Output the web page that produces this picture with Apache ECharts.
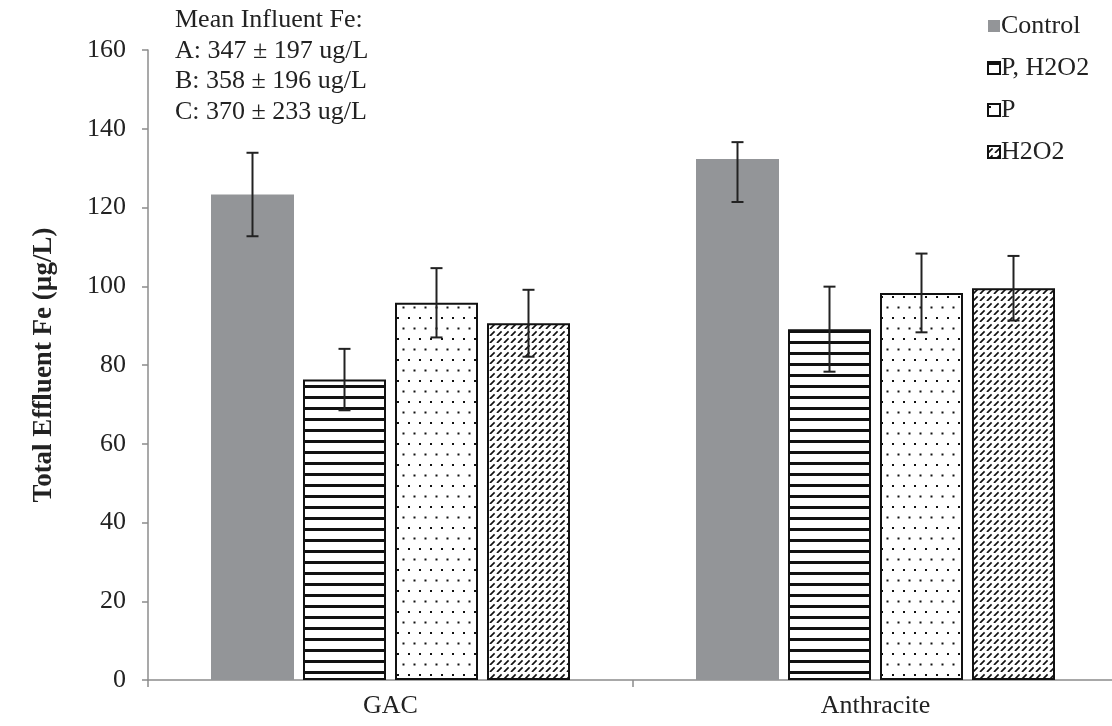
<!DOCTYPE html>
<html>
<head>
<meta charset="utf-8">
<script src="https://cdn.jsdelivr.net/npm/echarts@6/dist/echarts.min.js"></script>
<style>
html,body{margin:0;padding:0;background:#fff;overflow:hidden;}
#chart{width:1124px;height:726px;}
</style>
</head>
<body>
<div id="chart"></div>
<script>
// ---- data ----
var categories = ['GAC', 'Anthracite'];
var seriesNames = ['Control', 'P, H2O2', 'P', 'H2O2'];
var controlVals = [123.3, 132.3];
var controlErrPlus = [10.6, 4.3];
var controlErrMinus = [10.6, 10.9];
var pH2O2Vals = [76.3, 89.1];
var pH2O2ErrPlus = [7.8, 10.8];
var pH2O2ErrMinus = [7.8, 10.8];
var pVals = [95.8, 98.3];
var pErrPlus = [8.8, 10.0];
var pErrMinus = [8.8, 10.0];
var h2o2Vals = [90.6, 99.5];
var h2o2ErrPlus = [8.5, 8.2];
var h2o2ErrMinus = [8.5, 8.2];
var yTicks = [0, 20, 40, 60, 80, 100, 120, 140, 160];
var noteLines = ['Mean Influent Fe:', 'A: 347 \u00b1 197 ug/L', 'B: 358 \u00b1 196 ug/L', 'C: 370 \u00b1 233 ug/L'];

// ---- patterns ----
function makeCanvas(w, h) {
  var c = document.createElement('canvas');
  c.width = w; c.height = h;
  var ctx = c.getContext('2d');
  ctx.fillStyle = '#fff';
  ctx.fillRect(0, 0, w, h);
  return {c: c, ctx: ctx};
}
function hStripes() {
  var o = makeCanvas(4, 11);
  o.ctx.fillStyle = '#111';
  o.ctx.fillRect(0, 0, 4, 3);
  return o.c;
}
function dots() {
  var o = makeCanvas(11, 21);
  o.ctx.fillStyle = '#111';
  o.ctx.fillRect(1, 2, 2, 2);
  o.ctx.fillRect(6.5, 12.5, 2, 2);
  return o.c;
}
function diag() {
  var s = 7;
  var o = makeCanvas(s, s);
  var ctx = o.ctx;
  ctx.strokeStyle = '#111';
  ctx.lineWidth = 1.7;
  ctx.setLineDash([6.5, 3.4]);
  [-s, 0, s].forEach(function (k) {
    ctx.beginPath();
    ctx.moveTo(k, s);
    ctx.lineTo(k + s, 0);
    ctx.stroke();
  });
  return o.c;
}

var FONT = '"Liberation Serif", "DejaVu Serif", serif';
var FS = 26;
var BAR_W = 83, BAR_GAP = 9;

var values = [controlVals, pH2O2Vals, pVals, h2o2Vals];
var errPlus = [controlErrPlus, pH2O2ErrPlus, pErrPlus, h2o2ErrPlus];
var errMinus = [controlErrMinus, pH2O2ErrMinus, pErrMinus, h2o2ErrMinus];
var fills = ['#939598', {image: hStripes(), repeat: 'repeat'}, {image: dots(), repeat: 'repeat'}, {image: diag(), repeat: 'repeat'}];

var series = [];
seriesNames.forEach(function (name, i) {
  series.push({
    name: name,
    type: 'bar',
    barWidth: BAR_W,
    barGap: (BAR_GAP / BAR_W * 100) + '%',
    data: values[i],
    itemStyle: i === 0 ? {color: fills[i]} : {color: fills[i], borderColor: '#111', borderWidth: 2},
    emphasis: {disabled: true},
    z: 2
  });
});

// error bars
var errData = [];
values.forEach(function (vals, si) {
  vals.forEach(function (v, ci) {
    errData.push([ci, v, errPlus[si][ci], errMinus[si][ci], si]);
  });
});
series.push({
  type: 'custom',
  name: 'err',
  data: errData,
  z: 5,
  silent: true,
  renderItem: function (params, api) {
    var ci = api.value(0), v = api.value(1), ep = api.value(2), em = api.value(3), si = api.value(4);
    var center = api.coord([ci, v]);
    var x = center[0] + (si - 1.5) * (BAR_W + BAR_GAP);
    var top = api.coord([ci, v + ep])[1];
    var bot = api.coord([ci, v - em])[1];
    var cap = 6;
    var st = {stroke: '#222', lineWidth: 2};
    return {
      type: 'group',
      children: [
        {type: 'line', shape: {x1: x, y1: top, x2: x, y2: bot}, style: st},
        {type: 'line', shape: {x1: x - cap, y1: top, x2: x + cap, y2: top}, style: st},
        {type: 'line', shape: {x1: x - cap, y1: bot, x2: x + cap, y2: bot}, style: st}
      ]
    };
  }
});

var chart = echarts.init(document.getElementById('chart'), null, {renderer: 'canvas'});
chart.setOption({
  animation: false,
  backgroundColor: '#fff',
  textStyle: {fontFamily: FONT},
  grid: {left: 148, top: 50, right: 6, bottom: 46, containLabel: false},
  legend: {
    data: seriesNames,
    orient: 'vertical',
    left: 982,
    top: 8,
    itemWidth: 12,
    itemHeight: 12,
    itemGap: 16,
    icon: 'rect',
    textStyle: {fontFamily: FONT, fontSize: FS, color: '#222', padding: [0, 0, 0, -4]},
    selectedMode: false
  },
  graphic: [{
    type: 'text',
    left: 175,
    top: 5,
    style: {
      text: noteLines.join('\n'),
      font: FS + 'px ' + FONT,
      fill: '#222',
      lineHeight: 30.5
    }
  }],
  xAxis: {
    type: 'category',
    data: categories,
    axisLine: {lineStyle: {color: '#8c8c8c', width: 1.5}},
    axisTick: {show: true, length: 7, lineStyle: {color: '#8c8c8c', width: 1.5}},
    axisLabel: {fontFamily: FONT, fontSize: FS, color: '#222', margin: 13}
  },
  yAxis: {
    type: 'value',
    min: 0,
    max: 160,
    interval: 20,
    name: 'Total Effluent Fe (\u00b5g/L)',
    nameLocation: 'middle',
    nameGap: 90,
    nameTextStyle: {fontFamily: FONT, fontSize: 27, fontWeight: 'bold', color: '#222'},
    axisLine: {show: true, lineStyle: {color: '#8c8c8c', width: 1.5}},
    axisTick: {show: true, length: 6, lineStyle: {color: '#8c8c8c', width: 1.5}},
    splitLine: {show: false},
    axisLabel: {fontFamily: FONT, fontSize: FS, color: '#222', margin: 22,
      formatter: function (v) { return yTicks.indexOf(v) >= 0 ? String(v) : ''; }}
  },
  series: series
});
</script>
</body>
</html>
